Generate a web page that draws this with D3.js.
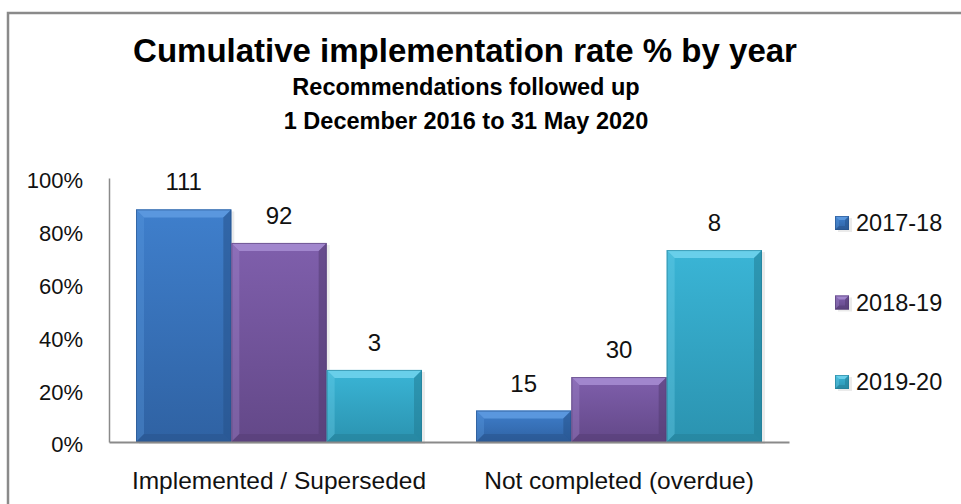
<!DOCTYPE html>
<html>
<head>
<meta charset="utf-8">
<script src="https://cdn.jsdelivr.net/npm/d3@7"></script>
<style>
  html, body { margin: 0; padding: 0; background: #fff; }
  svg { display: block; font-family: "Liberation Sans", Arial, sans-serif; }
</style>
</head>
<body>
<div id="chart"></div>
<script>
"use strict";

// Data
var categories = ["Implemented / Superseded", "Not completed (overdue)"];
var years = ["2017-18", "2018-19", "2019-20"];
// cumulative rate % per year, one array per category
var implementedRate = [88.1, 75.4, 27.3];
var overdueRate = [11.9, 24.6, 72.7];
// counts shown above the bars
var implementedCount = [111, 92, 3];
var overdueCount = [15, 30, 8];
var yTicks = [0, 20, 40, 60, 80, 100];

var titleText = "Cumulative implementation rate % by year";
var subtitleLines = ["Recommendations followed up", "1 December 2016 to 31 May 2020"];

var palette = {
  "2017-18": { light: "#5d9ae0", mid: "#3f7fcc", dark: "#2f62a3", edge: "#27528a" },
  "2018-19": { light: "#a58bd0", mid: "#7f5fac", dark: "#634888", edge: "#533c73" },
  "2019-20": { light: "#6fd2ec", mid: "#3ab5d6", dark: "#2b93b0", edge: "#237d96" }
};

var width = 961, height = 504;
var svg = d3.select("#chart").append("svg")
  .attr("width", width)
  .attr("height", height);

// outer chart frame (runs off the right and bottom of the picture)
svg.append("rect")
  .attr("x", 8).attr("y", 13)
  .attr("width", 1000).attr("height", 600)
  .attr("fill", "#fff")
  .attr("stroke", "#8a8a8a")
  .attr("stroke-width", 2.5);

// titles
svg.append("text")
  .attr("x", 465).attr("y", 62)
  .attr("text-anchor", "middle")
  .attr("font-size", 33)
  .attr("font-weight", "bold")
  .text(titleText);

svg.selectAll(".subtitle")
  .data(subtitleLines)
.enter().append("text")
  .attr("class", "subtitle")
  .attr("x", 466)
  .attr("y", function(d, i) { return 95 + i * 34; })
  .attr("text-anchor", "middle")
  .attr("font-size", 23.5)
  .attr("font-weight", "bold")
  .text(function(d) { return d; });

// scales
var plot = { left: 109, right: 789, top: 178, bottom: 442 };

var y = d3.scaleLinear()
  .domain([0, 100])
  .range([plot.bottom, plot.top]);

var x0 = d3.scaleBand()
  .domain(categories)
  .range([plot.left, plot.right]);

var x1 = d3.scaleBand()
  .domain(years)
  .range([27, x0.bandwidth() - 27]);

var rows = [
  { cat: categories[0], rates: implementedRate, counts: implementedCount },
  { cat: categories[1], rates: overdueRate, counts: overdueCount }
];

var bars = [];
rows.forEach(function(r) {
  years.forEach(function(yr, i) {
    bars.push({ cat: r.cat, year: yr, value: r.rates[i], count: r.counts[i] });
  });
});

// gradients
var defs = svg.append("defs");
years.forEach(function(yr, i) {
  var c = palette[yr];
  var g = defs.append("linearGradient")
    .attr("id", "grad" + i)
    .attr("x1", 0).attr("y1", 0).attr("x2", 0).attr("y2", 1);
  g.append("stop").attr("offset", "0%").attr("stop-color", c.mid);
  g.append("stop").attr("offset", "100%").attr("stop-color", c.dark);
});

// draws a bevelled box like the Office 3D bar style
function bevelBox(sel, bx, by, bw, bh, yr, i, b) {
  var c = palette[yr];
  var g = sel.append("g");
  g.append("rect")
    .attr("x", bx + 3).attr("y", by + 2)
    .attr("width", bw).attr("height", bh)
    .attr("fill", "#000").attr("opacity", 0.08);
  g.append("rect")
    .attr("x", bx).attr("y", by)
    .attr("width", bw).attr("height", bh)
    .attr("fill", "url(#grad" + i + ")");
  b = Math.min(b, bw / 2, bh / 2);
  var pts = function(a) { return a.map(function(p) { return p.join(","); }).join(" "); };
  // top facet
  g.append("polygon")
    .attr("points", pts([[bx, by], [bx + bw, by], [bx + bw - b, by + b], [bx + b, by + b]]))
    .attr("fill", c.light).attr("opacity", 0.9);
  // left facet
  g.append("polygon")
    .attr("points", pts([[bx, by], [bx + b, by + b], [bx + b, by + bh - b], [bx, by + bh]]))
    .attr("fill", c.light).attr("opacity", 0.35);
  // right facet
  g.append("polygon")
    .attr("points", pts([[bx + bw, by], [bx + bw, by + bh], [bx + bw - b, by + bh - b], [bx + bw - b, by + b]]))
    .attr("fill", c.edge).attr("opacity", 0.55);
  // bottom facet
  g.append("polygon")
    .attr("points", pts([[bx, by + bh], [bx + b, by + bh - b], [bx + bw - b, by + bh - b], [bx + bw, by + bh]]))
    .attr("fill", c.edge).attr("opacity", 0.5);
  g.append("rect")
    .attr("x", bx + 0.5).attr("y", by + 0.5)
    .attr("width", bw - 1).attr("height", bh - 1)
    .attr("fill", "none")
    .attr("stroke", c.edge).attr("stroke-width", 1).attr("opacity", 0.6);
}

var barLayer = svg.append("g");
bars.forEach(function(d) {
  var i = years.indexOf(d.year);
  var bx = x0(d.cat) + x1(d.year);
  var by = y(d.value);
  bevelBox(barLayer, bx, by, x1.bandwidth(), y(0) - by, d.year, i, 8);
});

// count labels
svg.append("g").selectAll("text")
  .data(bars)
.enter().append("text")
  .attr("x", function(d) { return x0(d.cat) + x1(d.year) + x1.bandwidth() / 2; })
  .attr("y", function(d) { return y(d.value) - 19; })
  .attr("text-anchor", "middle")
  .attr("font-size", 24)
  .attr("fill", "#111")
  .text(function(d) { return d.count; });

// axes
var yAxis = svg.append("g")
  .attr("transform", "translate(" + plot.left + ",0)")
  .call(d3.axisLeft(y).tickValues(yTicks).tickSize(0).tickPadding(26)
    .tickFormat(function(d) { return d + "%"; }));
yAxis.select(".domain").attr("stroke", "#8a8a8a").attr("stroke-width", 1.5);
yAxis.selectAll("text")
  .attr("font-size", 22)
  .attr("font-family", "Liberation Sans, Arial, sans-serif")
  .attr("fill", "#111")
  .attr("dy", "0.45em");

var xAxis = svg.append("g")
  .attr("transform", "translate(0," + plot.bottom + ")")
  .call(d3.axisBottom(x0).tickSize(0).tickPadding(30));
xAxis.select(".domain").attr("stroke", "#8a8a8a").attr("stroke-width", 2);
xAxis.selectAll("text")
  .attr("font-size", 24.5)
  .attr("font-family", "Liberation Sans, Arial, sans-serif")
  .attr("fill", "#111");

// legend
var legendY = d3.scalePoint()
  .domain(years)
  .range([223, 382]);

var legend = svg.append("g");
years.forEach(function(yr, i) {
  var cy = legendY(yr);
  bevelBox(legend, 835, cy - 7, 14, 14, yr, i, 4);
  legend.append("text")
    .attr("x", 856)
    .attr("y", cy + 8)
    .attr("font-size", 23.5)
    .attr("fill", "#111")
    .text(yr);
});
</script>
</body>
</html>
